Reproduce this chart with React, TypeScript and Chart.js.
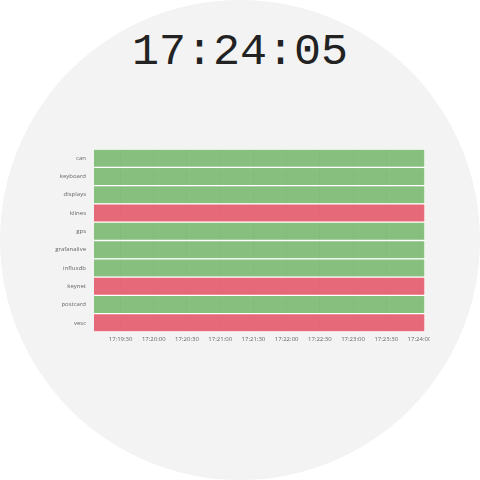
import React, { useEffect, useRef } from "react";
import { Chart, registerables } from "chart.js";

Chart.register(...registerables);

const clockText = "17:24:05";
const services = ["can", "keyboard", "displays", "klines", "gps", "grafanalive", "influxdb", "keynet", "postcard", "vesc"];
const statuses = ["ok", "ok", "ok", "err", "ok", "ok", "ok", "err", "ok", "err"];
const startTimes = ["17:19:06", "17:19:06", "17:19:06", "17:19:06", "17:19:06", "17:19:06", "17:19:06", "17:19:06", "17:19:06", "17:19:06"];
const endTimes = ["17:24:05", "17:24:05", "17:24:05", "17:24:05", "17:24:05", "17:24:05", "17:24:05", "17:24:05", "17:24:05", "17:24:05"];
const axisMin = "17:19:06";
const axisMax = "17:24:05";

const toSec = (t: string) => {
  const [h, m, s] = t.split(":").map(Number);
  return h * 3600 + m * 60 + s;
};
const fmt = (v: number) => {
  const h = Math.floor(v / 3600);
  const m = Math.floor((v % 3600) / 60);
  const s = Math.round(v % 60);
  const p = (n: number) => String(n).padStart(2, "0");
  return `${p(h)}:${p(m)}:${p(s)}`;
};

const OK = "rgba(108,178,98,0.8)";
const ERR = "rgba(228,80,100,0.85)";

export default function App() {
  const ref = useRef<HTMLCanvasElement>(null);
  useEffect(() => {
    if (!ref.current) return;
    const chart = new Chart(ref.current, {
      type: "bar",
      data: {
        labels: services,
        datasets: [
          {
            data: services.map((_, i) => [toSec(startTimes[i]), toSec(endTimes[i])]) as any,
            backgroundColor: statuses.map((s) => (s === "ok" ? OK : ERR)),
            borderColor: "#ffffff",
            borderWidth: 1,
            borderSkipped: "start",
            barPercentage: 1,
            categoryPercentage: 1,
          },
        ],
      },
      options: {
        indexAxis: "y",
        animation: false,
        responsive: false,
        maintainAspectRatio: false,
        layout: { padding: { left: 0, right: 5, top: 0, bottom: 0 } },
        plugins: { legend: { display: false }, tooltip: { enabled: false } },
        scales: {
          x: {
            type: "linear",
            min: toSec(axisMin),
            max: toSec(axisMax),
            grid: { drawTicks: false, color: "rgba(0,0,0,0.08)" },
            border: { display: false },
            ticks: {
              stepSize: 30,
              includeBounds: false,
              autoSkip: false,
              maxRotation: 0,
              padding: 4,
              color: "#666",
              font: { family: "'Open Sans'", size: 6 },
              callback: (v: any) => fmt(Number(v)),
            },
            afterFit: (s: any) => {
              s.paddingLeft = 0;
              s.paddingRight = 0;
              s.paddingTop = 0;
              s.paddingBottom = 0;
              s.height = 20;
            },
          },
          y: {
            grid: { display: false, drawTicks: false },
            border: { display: false },
            ticks: {
              padding: 8,
              color: "#666",
              font: { family: "'Open Sans'", size: 6 },
            },
            afterFit: (s: any) => {
              s.paddingLeft = 0;
              s.paddingRight = 0;
              s.paddingTop = 0;
              s.paddingBottom = 0;
              s.width = 44;
            },
          },
        },
      },
    });
    return () => chart.destroy();
  }, []);

  return (
    <div style={{ position: "fixed", left: 0, top: 0, width: 480, height: 480, background: "#fff", overflow: "hidden" }}>
      <div style={{ position: "absolute", left: 0, top: 0, width: 480, height: 480, borderRadius: "50%", background: "#f2f3f2" }} />
      <div
        style={{
          position: "absolute",
          left: 0,
          top: 26,
          width: 480,
          textAlign: "center",
          fontFamily: "'Liberation Mono', monospace",
          fontSize: 45,
          lineHeight: "54px",
          color: "#222",
        }}
      >
        {clockText}
      </div>
      <div style={{ position: "absolute", left: 50, top: 149, width: 380, height: 203, overflow: "hidden" }}>
        <canvas ref={ref} width={380} height={203} style={{ display: "block", width: 380, height: 203 }} />
      </div>
    </div>
  );
}
